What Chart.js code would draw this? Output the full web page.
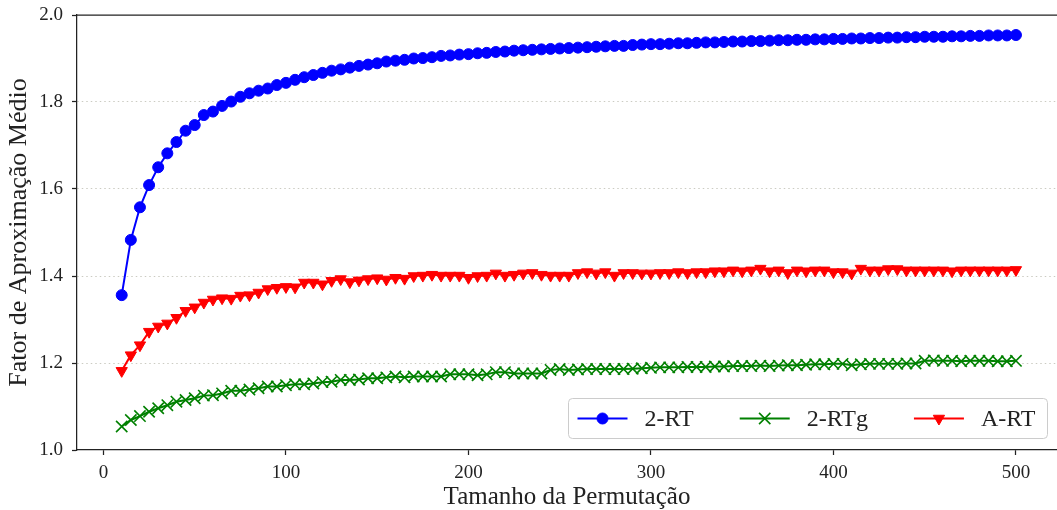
<!DOCTYPE html>
<html>
<head>
<meta charset="utf-8">
<script src="https://cdn.jsdelivr.net/npm/chart.js@4.4.1/dist/chart.umd.min.js"></script>
<style>
  html, body { margin: 0; padding: 0; background: #fff; }
  #chart { display: block; }
</style>
</head>
<body>
<canvas id="chart" width="1057" height="510"></canvas>
<script>
// permutation sizes (x)
const sizes = [
  10, 15, 20, 25, 30, 35, 40, 45, 50, 55, 60, 65, 70, 75, 80, 85, 90, 95, 100, 105,
  110, 115, 120, 125, 130, 135, 140, 145, 150, 155, 160, 165, 170, 175, 180, 185, 190, 195, 200, 205,
  210, 215, 220, 225, 230, 235, 240, 245, 250, 255, 260, 265, 270, 275, 280, 285, 290, 295, 300, 305,
  310, 315, 320, 325, 330, 335, 340, 345, 350, 355, 360, 365, 370, 375, 380, 385, 390, 395, 400, 405,
  410, 415, 420, 425, 430, 435, 440, 445, 450, 455, 460, 465, 470, 475, 480, 485, 490, 495, 500
];

// average approximation factor per algorithm
const rt2 = [
  1.356, 1.483, 1.558, 1.609, 1.650, 1.682, 1.708, 1.734, 1.747, 1.770, 1.778, 1.791, 1.801, 1.812, 1.820, 1.826, 1.831, 1.839, 1.844, 1.851,
  1.857, 1.862, 1.867, 1.872, 1.875, 1.879, 1.883, 1.886, 1.889, 1.893, 1.895, 1.897, 1.900, 1.901, 1.903, 1.906, 1.907, 1.909, 1.910, 1.912,
  1.913, 1.915, 1.916, 1.918, 1.919, 1.920, 1.921, 1.922, 1.923, 1.924, 1.925, 1.926, 1.927, 1.928, 1.929, 1.929, 1.931, 1.932, 1.933, 1.933,
  1.934, 1.935, 1.935, 1.936, 1.937, 1.937, 1.938, 1.939, 1.939, 1.940, 1.940, 1.941, 1.942, 1.942, 1.943, 1.943, 1.944, 1.944, 1.945, 1.945,
  1.946, 1.946, 1.947, 1.947, 1.948, 1.948, 1.949, 1.949, 1.950, 1.950, 1.950, 1.951, 1.951, 1.952, 1.952, 1.953, 1.953, 1.953, 1.954
];
const rt2g = [
  1.054, 1.069, 1.078, 1.088, 1.096, 1.103, 1.111, 1.115, 1.119, 1.125, 1.126, 1.130, 1.136, 1.136, 1.139, 1.142, 1.146, 1.146, 1.149, 1.151,
  1.151, 1.153, 1.156, 1.157, 1.161, 1.161, 1.162, 1.165, 1.165, 1.167, 1.169, 1.167, 1.169, 1.169, 1.169, 1.169, 1.174, 1.174, 1.174, 1.172,
  1.174, 1.179, 1.179, 1.176, 1.176, 1.176, 1.176, 1.184, 1.186, 1.184, 1.185, 1.186, 1.186, 1.186, 1.186, 1.186, 1.187, 1.188, 1.189, 1.190,
  1.190, 1.190, 1.191, 1.191, 1.191, 1.192, 1.192, 1.193, 1.193, 1.193, 1.194, 1.193, 1.194, 1.195, 1.195, 1.196, 1.197, 1.197, 1.198, 1.198,
  1.195, 1.197, 1.198, 1.198, 1.198, 1.198, 1.199, 1.199, 1.205, 1.206, 1.205, 1.205, 1.204, 1.205, 1.205, 1.205, 1.204, 1.204, 1.205
];
const art = [
  1.182, 1.218, 1.241, 1.272, 1.284, 1.291, 1.304, 1.320, 1.328, 1.339, 1.346, 1.349, 1.348, 1.355, 1.356, 1.362, 1.370, 1.373, 1.375, 1.374,
  1.385, 1.385, 1.381, 1.389, 1.393, 1.386, 1.390, 1.393, 1.395, 1.392, 1.396, 1.394, 1.400, 1.401, 1.403, 1.401, 1.401, 1.401, 1.396, 1.400,
  1.401, 1.406, 1.401, 1.403, 1.406, 1.407, 1.403, 1.401, 1.401, 1.401, 1.407, 1.409, 1.406, 1.409, 1.401, 1.407, 1.407, 1.406, 1.406, 1.407,
  1.407, 1.409, 1.407, 1.409, 1.409, 1.411, 1.411, 1.413, 1.411, 1.413, 1.417, 1.411, 1.413, 1.407, 1.413, 1.411, 1.413, 1.413, 1.409, 1.409,
  1.406, 1.417, 1.413, 1.413, 1.416, 1.416, 1.413, 1.413, 1.413, 1.413, 1.413, 1.411, 1.413, 1.413, 1.413, 1.413, 1.413, 1.413, 1.414
];

const seriesLabels = ['2-RT', '2-RTg', 'A-RT'];
const xTicks = [0, 100, 200, 300, 400, 500];
const yTicks = [1.0, 1.2, 1.4, 1.6, 1.8, 2.0];

const serif = '"Liberation Serif", "Times New Roman", serif';
const ink = '#222';
const toPoints = ys => sizes.map((x, i) => ({ x: x, y: ys[i] }));

// top spine + legend (matplotlib style box inside the plot, lower right)
const framePlugin = {
    id: 'frame',
    afterDraw(chart) {
        const { ctx, chartArea } = chart;
        ctx.save();
        ctx.strokeStyle = ink;
        ctx.lineWidth = 1.25;
        ctx.beginPath();
        ctx.moveTo(chartArea.left, chartArea.top);
        ctx.lineTo(chartArea.right, chartArea.top);
        ctx.stroke();

        const left = 568.5, top = 398.5, bottom = 438.5;
        const cy = (top + bottom) / 2;
        const handle = 50, textPad = 17, colGap = 46;
        ctx.font = '24px ' + serif;
        const sets = chart.data.datasets;
        let x = left + 9;
        const items = sets.map(ds => {
            const w = ctx.measureText(ds.label).width;
            const it = { ds: ds, x: x, w: w };
            x += handle + textPad + w + colGap;
            return it;
        });
        const last = items[items.length - 1];
        const right = last.x + handle + textPad + last.w + 12;

        ctx.beginPath();
        ctx.roundRect(left, top, right - left, bottom - top, 4);
        ctx.fillStyle = 'rgba(255,255,255,0.8)';
        ctx.fill();
        ctx.strokeStyle = '#cccccc';
        ctx.lineWidth = 1;
        ctx.stroke();

        items.forEach(it => {
            const ds = it.ds;
            ctx.strokeStyle = ds.borderColor;
            ctx.lineWidth = ds.borderWidth;
            ctx.beginPath();
            ctx.moveTo(it.x, cy);
            ctx.lineTo(it.x + handle, cy);
            ctx.stroke();
            ctx.fillStyle = ds.pointBackgroundColor;
            ctx.strokeStyle = ds.pointBorderColor;
            ctx.lineWidth = ds.pointBorderWidth;
            Chart.helpers.drawPoint(ctx, {
                pointStyle: ds.pointStyle,
                rotation: ds.pointRotation || 0,
                radius: ds.pointRadius,
                borderWidth: ds.pointBorderWidth
            }, it.x + handle / 2, cy);
            ctx.fillStyle = ink;
            ctx.textBaseline = 'middle';
            ctx.textAlign = 'left';
            ctx.fillText(ds.label, it.x + handle + textPad, cy + 1);
        });
        ctx.restore();
    }
};

new Chart(document.getElementById('chart'), {
    type: 'line',
    data: {
        datasets: [
            {
                label: seriesLabels[0],
                data: toPoints(rt2),
                borderColor: '#0000ff',
                borderWidth: 2,
                pointStyle: 'circle',
                pointRadius: 5.5,
                pointBackgroundColor: '#0000ff',
                pointBorderColor: '#0000ff',
                pointBorderWidth: 1
            },
            {
                label: seriesLabels[1],
                data: toPoints(rt2g),
                borderColor: '#008000',
                borderWidth: 2,
                pointStyle: 'crossRot',
                pointRadius: 8,
                pointBackgroundColor: '#008000',
                pointBorderColor: '#008000',
                pointBorderWidth: 1.6
            },
            {
                label: seriesLabels[2],
                data: toPoints(art),
                borderColor: '#ff0000',
                borderWidth: 2,
                pointStyle: 'triangle',
                pointRotation: 180,
                pointRadius: 6.5,
                pointBackgroundColor: '#ff0000',
                pointBorderColor: '#ff0000',
                pointBorderWidth: 1
            }
        ]
    },
    options: {
        responsive: false,
        animation: false,
        devicePixelRatio: 1,
        layout: { autoPadding: false, padding: { top: 15, right: 0, bottom: 0, left: 0 } },
        elements: { line: { tension: 0 } },
        plugins: {
            legend: { display: false },
            tooltip: { enabled: false }
        },
        scales: {
            x: {
                type: 'linear',
                min: -14.5,
                max: 522.5,
                afterBuildTicks: s => { s.ticks = xTicks.map(v => ({ value: v })); },
                afterFit: s => { s.height = 60; s.paddingLeft = 0; s.paddingRight = 0; },
                grid: { drawOnChartArea: false, drawTicks: true, tickLength: 5, tickColor: ink, tickWidth: 1.25 },
                border: { color: ink, width: 1.25 },
                ticks: {
                    color: ink,
                    padding: 7,
                    font: { family: serif, size: 19 },
                    callback: v => String(v)
                },
                title: {
                    display: true,
                    text: 'Tamanho da Permutação',
                    color: ink,
                    font: { family: serif, size: 25 },
                    padding: { top: 0, bottom: -2 }
                }
            },
            y: {
                min: 1.0,
                max: 2.0,
                afterBuildTicks: s => { s.ticks = yTicks.map(v => ({ value: v })); },
                afterFit: s => { s.width = 77; s.paddingTop = 0; s.paddingBottom = 0; },
                grid: {
                    color: c => (c.tick && (c.tick.value <= 1.0001 || c.tick.value >= 1.9999)) ? 'rgba(0,0,0,0)' : '#cbcbc2',
                    lineWidth: 1,
                    drawTicks: true,
                    tickLength: 5,
                    tickColor: ink,
                    tickWidth: 1.25,
                    tickBorderDash: []
                },
                border: { color: ink, width: 1.25, dash: [1.5, 3] },
                ticks: {
                    color: ink,
                    padding: 9,
                    font: { family: serif, size: 19 },
                    callback: v => Number(v).toFixed(1)
                },
                title: {
                    display: true,
                    text: 'Fator de Aproximação Médio',
                    color: ink,
                    font: { family: serif, size: 26 },
                    padding: { top: 4, bottom: 0 }
                }
            }
        }
    },
    plugins: [framePlugin]
});
</script>
</body>
</html>
